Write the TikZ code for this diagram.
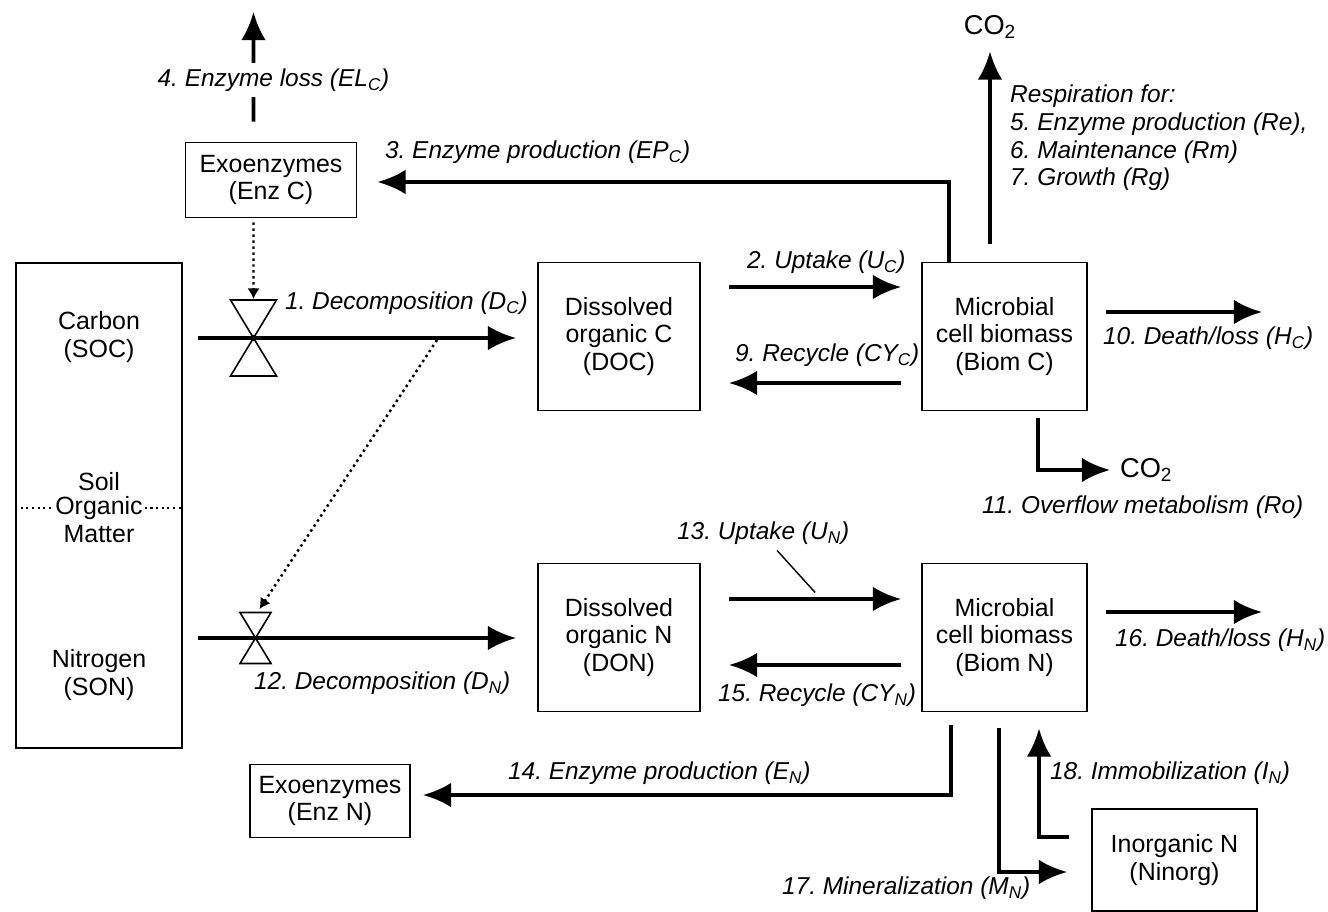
\documentclass[tikz,border=0pt]{standalone}
\usepackage{fontspec}
\setmainfont{Liberation Sans}
\usetikzlibrary{calc,arrows.meta}
\frenchspacing

\begin{document}
\begin{tikzpicture}[x=0.02cm,y=-0.02cm,
  box/.style={draw,line width=1.1pt,align=center,inner sep=0pt,font=\fontsize{14.2}{15.8}\selectfont},
  txt/.style={align=center,inner sep=1pt,font=\fontsize{14.2}{15.8}\selectfont},
  lab/.style={anchor=west,align=left,inner sep=1pt,font=\fontsize{13.9}{15.8}\selectfont\itshape},
  flow/.style={line width=2.1pt,-{Latex[length=16pt,width=14pt]}},
  ctrl/.style={dotted,line width=1.4pt,-{Latex[length=6pt,width=7pt]}},
  valve/.style={line width=0.9pt}]
\useasboundingbox (0,0) rectangle (1328,912);

% pools
\node[box,minimum width=3.32cm,minimum height=9.7cm] (SOM) at (99,505.5) {};
\node[txt] (soc) at (99,337) {Carbon\\(SOC)};
\node[txt] (son) at (99,675) {Nitrogen\\(SON)};
\node[txt] (soil) at (99,482) {Soil};
\node[txt] (organic) at (99,508) {Organic};
\node[txt] (matter) at (99,534) {Matter};
\draw[dotted,line width=1.2pt] (SOM.west |- organic) -- (organic.west);
\draw[dotted,line width=1.2pt] (organic.east) -- (SOM.east |- organic);

\node[box,minimum width=3.42cm,minimum height=1.5cm] (EnzC) at (271,180) {Exoenzymes\\(Enz C)};
\node[box,minimum width=3.24cm,minimum height=2.96cm] (DOC) at (619,336.5) {Dissolved\\organic C\\(DOC)};
\node[box,minimum width=3.3cm,minimum height=2.96cm] (BiomC) at (1004.5,336.5) {Microbial\\cell biomass\\(Biom C)};
\node[box,minimum width=3.24cm,minimum height=2.96cm] (DON) at (619,637.5) {Dissolved\\organic N\\(DON)};
\node[box,minimum width=3.3cm,minimum height=2.96cm] (BiomN) at (1004.5,637.5) {Microbial\\cell biomass\\(Biom N)};
\node[box,minimum width=3.2cm,minimum height=1.46cm] (EnzN) at (330,801) {Exoenzymes\\(Enz N)};
\node[box,minimum width=3.3cm,minimum height=2.04cm] (Ninorg) at (1174.5,860) {Inorganic N\\(Ninorg)};

\node[txt,font=\fontsize{15.5}{17}\selectfont] (co2a) at (990,27) {CO\textsubscript{2}};
\node[txt,anchor=west,font=\fontsize{15.5}{17}\selectfont] (co2b) at (1118,470) {CO\textsubscript{2}};

% valves
\coordinate (vC) at (253.5,338);
\coordinate (vN) at (255.5,638);
\draw[valve] (vC) -- ++(-23,-38) -- ++(46,0) -- cycle;
\draw[valve] (vC) -- ++(-23,38) -- ++(46,0) -- cycle;
\fill (vC) circle (1.8pt);
\draw[valve] (vN) -- ++(-15.5,-25.5) -- ++(31,0) -- cycle;
\draw[valve] (vN) -- ++(-15.5,25.5) -- ++(31,0) -- cycle;

% decomposition
\draw[flow] ($(SOM.east |- vC)+(15,0)$) -- ($(DOC.west |- vC)+(-21,0)$);
\draw[flow] ($(SOM.east |- vN)+(15,0)$) -- ($(DON.west |- vN)+(-21,0)$);
\coordinate (dC) at (437,340);
\draw[ctrl] ($(EnzC.south)+(-17.5,4)$) -- ($(vC)+(0,-39)$);
\draw[ctrl] (dC) -- ($(vN)+(4,-29)$);

% uptake and recycle
\draw[flow] ($(DOC.east)+(28,-49.5)$) -- ($(BiomC.west)+(-20,-49.5)$);
\draw[flow] ($(BiomC.west)+(-20,46.5)$) -- ($(DOC.east)+(28,46.5)$);
\draw[flow] ($(DON.east)+(28,-38.5)$) -- ($(BiomN.west)+(-20,-38.5)$);
\draw[flow] ($(BiomN.west)+(-20,27.5)$) -- ($(DON.east)+(28,27.5)$);

% enzymes
\draw[flow] ($(BiomC.north)+(-55.5,0)$) |- ($(EnzC.east)+(20,2)$);
\draw[flow] ($(BiomN.south)+(-53.5,13)$) |- ($(EnzN.east)+(12,-6)$);
\coordinate (elC) at (253.5,12);
\draw[flow] ($(EnzC.north)+(-17.5,-20)$) -- (elC);

% respiration, death, N exchange
\draw[flow,shorten >=6pt] ($(BiomC.north)+(-14.5,-18)$) -- (co2a.south);
\draw[flow] ($(BiomC.south)+(33.5,7)$) |- ($(co2b.west)+(-8,0)$);
\coordinate (hC) at (1262,312);
\coordinate (hN) at (1262,612);
\draw[flow] ($(BiomC.east)+(18,-24.5)$) -- (hC);
\draw[flow] ($(BiomN.east)+(18,-25.5)$) -- (hN);
\draw[flow] ($(BiomN.south)+(-5.5,16)$) |- ($(Ninorg.west)+(-24,12)$);
\draw[flow] ($(Ninorg.west)+(-22,-23)$) -| ($(BiomN.south)+(34.5,16)$);

% labels
\node[lab,fill=white,inner sep=3pt] (L4) at (152,80) {4. Enzyme loss (EL\textsubscript{C})};
\node[lab] (L3) at (383,152) {3. Enzyme production (EP\textsubscript{C})};
\node[lab] (L1) at (283,303) {1. Decomposition (D\textsubscript{C})};
\node[lab] (L2) at (745,262) {2. Uptake (U\textsubscript{C})};
\node[lab] (L9) at (733,355) {9. Recycle (CY\textsubscript{C})};
\node[lab] (Lresp) at (1008,138) {Respiration for:\\5. Enzyme production (Re),\\6. Maintenance (Rm)\\7. Growth (Rg)};
\node[lab] (L10) at (1101,338) {10. Death/loss (H\textsubscript{C})};
\node[lab] (L11) at (980,507) {11. Overflow metabolism (Ro)};
\node[lab] (L12) at (252,683) {12. Decomposition (D\textsubscript{N})};
\node[lab] (L13) at (675,533) {13. Uptake (U\textsubscript{N})};
\draw[line width=0.8pt] ($(L13.south)+(14,4)$) -- ++(38,42);
\node[lab] (L15) at (716,695) {15. Recycle (CY\textsubscript{N})};
\node[lab] (L16) at (1113,640) {16. Death/loss (H\textsubscript{N})};
\node[lab] (L14) at (506,773) {14. Enzyme production (E\textsubscript{N})};
\node[lab] (L17) at (780,888) {17. Mineralization (M\textsubscript{N})};
\node[lab] (L18) at (1048,773) {18. Immobilization (I\textsubscript{N})};
\end{tikzpicture}
\end{document}
